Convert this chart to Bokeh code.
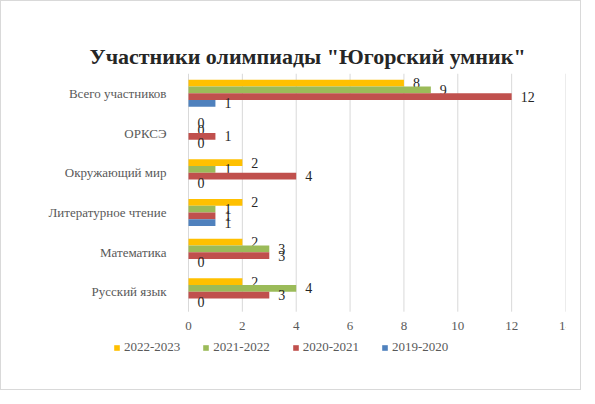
from bokeh.plotting import figure
from bokeh.models import ColumnDataSource, Legend, LegendItem, Range1d, FixedTicker
from bokeh.core.properties import value
from bokeh.embed import file_html
from bokeh.resources import INLINE

categories = ["Русский язык", "Математика", "Литературное чтение",
              "Окружающий мир", "ОРКСЭ", "Всего участников"]
s_2022_2023 = [2, 2, 2, 2, 0, 8]
s_2021_2022 = [4, 3, 1, 1, 0, 9]
s_2020_2021 = [3, 3, 1, 4, 1, 12]
s_2019_2020 = [0, 0, 1, 0, 0, 1]
series_names = ["2022-2023", "2021-2022", "2020-2021", "2019-2020"]
colors = ["#FFC000", "#9BBB59", "#C0504D", "#4F81BD"]
x_ticks = [0, 2, 4, 6, 8, 10, 12, 14]

FONT = "serif"
n = len(categories)
pos = list(range(n))

p = figure(frame_width=562, frame_height=292,
           x_range=Range1d(-6.87, 14), y_range=Range1d(-1.855, n - 0.5),
           output_backend="svg", toolbar_location=None,
           min_border_left=2, min_border_right=15, min_border_top=72, min_border_bottom=24)

# gridlines restricted to the plot area
p.segment(x0=x_ticks, y0=[-0.5] * len(x_ticks), x1=x_ticks, y1=[n - 0.5] * len(x_ticks),
          line_color="#D9D9D9", line_width=1)

offsets = [0.255, 0.085, -0.085, -0.255]
series = [s_2022_2023, s_2021_2022, s_2020_2021, s_2019_2020]
renderers = []
for vals, off, color in zip(series, offsets, colors):
    src = ColumnDataSource(dict(y=[i + off for i in pos], v=vals, t=[str(x) for x in vals]))
    r = p.hbar(y="y", right="v", left=0, height=0.17, source=src,
               color=color, line_color=None)
    renderers.append(r)
    p.text(x="v", y="y", text="t", source=src, x_offset=9,
           text_baseline="middle", text_align="left",
           text_font=value(FONT), text_font_size="14px", text_color="#262626")

p.title.text = 'Участники олимпиады "Югорский умник"'
p.title.align = "left"
p.title.offset = 86
p.title.text_font = FONT
p.title.text_font_size = "22px"
p.title.text_font_style = "bold"
p.title.text_color = "#262626"

p.xaxis.fixed_location = -0.5
p.xaxis.ticker = FixedTicker(ticks=x_ticks)
p.xaxis.axis_line_color = None
p.xaxis.major_tick_line_color = None
p.xaxis.minor_tick_line_color = None
p.xaxis.major_label_standoff = 4
p.xaxis.major_label_text_font = FONT
p.xaxis.major_label_text_font_size = "13px"
p.xaxis.major_label_text_color = "#595959"

p.yaxis.fixed_location = 0
p.yaxis.ticker = FixedTicker(ticks=pos)
p.yaxis.major_label_overrides = {i: c for i, c in zip(pos, categories)}
p.yaxis.axis_line_color = None
p.yaxis.major_tick_line_color = None
p.yaxis.minor_tick_line_color = None
p.yaxis.major_label_standoff = 16
p.yaxis.major_label_text_font = FONT
p.yaxis.major_label_text_font_size = "13px"
p.yaxis.major_label_text_color = "#595959"

p.xgrid.grid_line_color = None
p.ygrid.grid_line_color = None
p.outline_line_color = None

legend = Legend(items=[LegendItem(label=s, renderers=[r]) for s, r in zip(series_names, renderers)],
                orientation="horizontal", location=(110, 10),
                label_text_font=FONT, label_text_font_size="13px", label_text_color="#595959",
                glyph_width=7, glyph_height=7, label_height=14, spacing=22, label_standoff=4,
                background_fill_alpha=0, border_line_color=None, padding=3, margin=0)
p.add_layout(legend)
p.styles = {"border": "1px solid #D9D9D9"}

open("out.html", "w").write(file_html(p, INLINE))
